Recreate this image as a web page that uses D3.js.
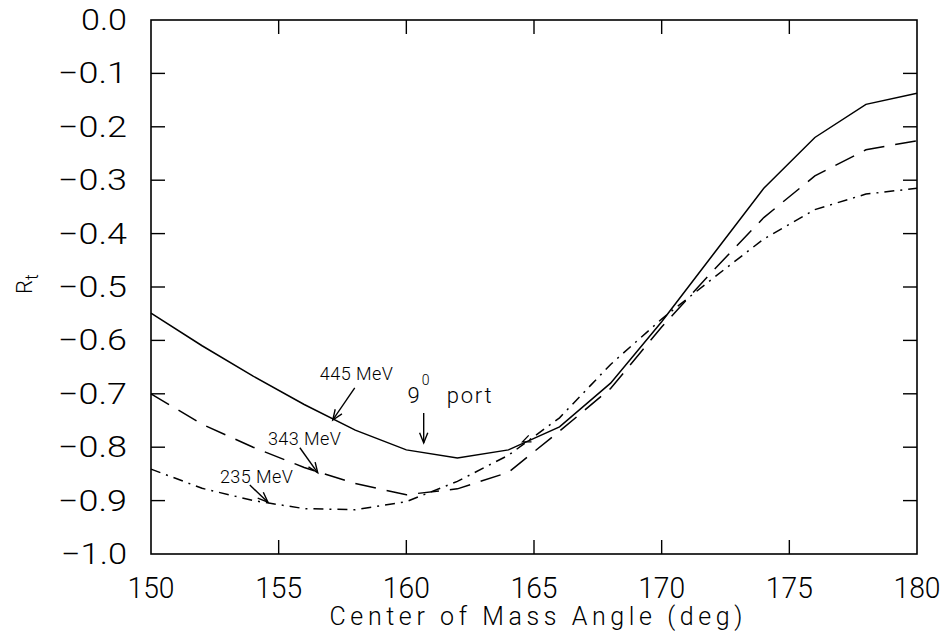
<!DOCTYPE html>
<html><head><meta charset="utf-8">
<script src="https://cdn.jsdelivr.net/npm/d3@7"></script>
<style>body{margin:0;background:#fff}svg{display:block}</style>
</head><body>
<svg id="c" width="942" height="635"></svg>
<script>
const angles = [150,152,154,156,158,160,162,164,166,168,170,172,174,176,178,180];
const r445 = [-0.549,-0.61,-0.667,-0.72,-0.768,-0.805,-0.82,-0.805,-0.762,-0.68,-0.565,-0.44,-0.315,-0.22,-0.158,-0.137];
const r343 = [-0.70,-0.757,-0.80,-0.838,-0.868,-0.889,-0.878,-0.847,-0.77,-0.69,-0.575,-0.47,-0.37,-0.292,-0.243,-0.226];
const r235 = [-0.841,-0.877,-0.90,-0.915,-0.917,-0.902,-0.864,-0.815,-0.745,-0.645,-0.56,-0.484,-0.41,-0.355,-0.326,-0.315];
const xTicks = [150,155,160,165,170,175,180];
const yTicks = [0.0,-0.1,-0.2,-0.3,-0.4,-0.5,-0.6,-0.7,-0.8,-0.9,-1.0];
const labels = [
  {text:"445 MeV", x:156.61, y:-0.674, from:[157.98,-0.689], to:[157.12,-0.749]},
  {text:"343 MeV", x:154.58, y:-0.796, from:[155.83,-0.801], to:[156.53,-0.848]},
  {text:"235 MeV", x:152.70, y:-0.867, from:[153.87,-0.871], to:[154.58,-0.903]}
];

const svg = d3.select("#c");
const L=151, R=917, T=20, B=554;
const x = d3.scaleLinear().domain([150,180]).range([L,R]);
const y = d3.scaleLinear().domain([-1,0]).range([B,T]);
const font = "Roboto, 'Liberation Sans', Arial, sans-serif";
const fw = 300;

svg.append("rect").attr("x",L).attr("y",T).attr("width",R-L).attr("height",B-T)
  .attr("fill","none").attr("stroke","#000").attr("stroke-width",1.6);

const TL=14;
xTicks.filter(v=>v>150&&v<180).forEach(v=>{
  svg.append("line").attr("x1",x(v)).attr("x2",x(v)).attr("y1",B).attr("y2",B-TL).attr("stroke","#000").attr("stroke-width",1.4);
  svg.append("line").attr("x1",x(v)).attr("x2",x(v)).attr("y1",T).attr("y2",T+TL).attr("stroke","#000").attr("stroke-width",1.4);
});
yTicks.filter(v=>v<0&&v>-1).forEach(v=>{
  svg.append("line").attr("x1",L).attr("x2",L+TL).attr("y1",y(v)).attr("y2",y(v)).attr("stroke","#000").attr("stroke-width",1.4);
  svg.append("line").attr("x1",R).attr("x2",R-TL).attr("y1",y(v)).attr("y2",y(v)).attr("stroke","#000").attr("stroke-width",1.4);
});
xTicks.forEach(v=>{
  svg.append("text").attr("x",x(v)).attr("y",598).attr("text-anchor","middle")
    .attr("font-family",font).attr("font-weight",fw).attr("font-size",29).attr("fill","#000")
    .attr("textLength",47).attr("lengthAdjust","spacingAndGlyphs").text(d3.format("d")(v));
});
yTicks.forEach(v=>{
  const s = v===0 ? "0.0" : "\u2212"+Math.abs(v).toFixed(1);
  svg.append("text").attr("x",127).attr("y",y(v)+10).attr("text-anchor","end")
    .attr("font-family",font).attr("font-weight",fw).attr("font-size",29).attr("fill","#000")
    .attr("textLength",v===0?46:(v===-1?66:69)).attr("lengthAdjust","spacingAndGlyphs").text(s);
});
svg.append("text").attr("x",(L+R)/2+2).attr("y",625).attr("text-anchor","middle")
  .attr("font-family",font).attr("font-weight",fw).attr("font-size",25).attr("fill","#000")
  .attr("textLength",413).attr("lengthAdjust","spacing").text("Center of Mass Angle (deg)");
const yl = svg.append("text").attr("transform","translate(32,294) rotate(-90)")
  .attr("font-family",font).attr("font-weight",fw).attr("font-size",22).attr("fill","#000");
yl.append("tspan").text("R");
yl.append("tspan").attr("dy",6).attr("font-size",18).text("t");

const line = d3.line().x(d=>x(d[0])).y(d=>y(d[1]));
const series = [
  {vals:r445, dash:null},
  {vals:r343, dash:"21,11"},
  {vals:r235, dash:"10,6,2,6"}
];
series.forEach(s=>{
  svg.append("path").datum(angles.map((a,i)=>[a,s.vals[i]])).attr("d",line)
    .attr("fill","none").attr("stroke","#000").attr("stroke-width",1.5)
    .attr("stroke-dasharray",s.dash);
});

function arrow(x1,y1,x2,y2,head){
  const ang=Math.atan2(y2-y1,x2-x1), h=head||11, a=0.38;
  svg.append("line").attr("x1",x1).attr("y1",y1).attr("x2",x2).attr("y2",y2).attr("stroke","#000").attr("stroke-width",1.4);
  const p1=[x2-h*Math.cos(ang-a), y2-h*Math.sin(ang-a)], p2=[x2-h*Math.cos(ang+a), y2-h*Math.sin(ang+a)];
  svg.append("path").attr("d",`M${p1}L${x2},${y2}L${p2}`).attr("fill","none").attr("stroke","#000").attr("stroke-width",1.4);
}
labels.forEach(l=>{
  svg.append("text").attr("x",x(l.x)).attr("y",y(l.y)).attr("font-family",font).attr("font-size",18)
    .attr("font-weight",fw).attr("fill","#000").attr("textLength",73).attr("lengthAdjust","spacing").text(l.text);
  arrow(x(l.from[0]),y(l.from[1]),x(l.to[0]),y(l.to[1]));
});
svg.append("text").attr("x",x(160.05)).attr("y",y(-0.717)).attr("font-family",font).attr("font-weight",fw).attr("font-size",22).attr("fill","#000").text("9");
svg.append("text").attr("x",x(160.6)).attr("y",y(-0.684)).attr("font-family",font).attr("font-weight",fw).attr("font-size",14).attr("fill","#000").text("0");
svg.append("text").attr("x",x(161.58)).attr("y",y(-0.717)).attr("font-family",font).attr("font-weight",fw).attr("font-size",22).attr("fill","#000")
  .attr("textLength",45).attr("lengthAdjust","spacing").text("port");
arrow(x(160.68),y(-0.736),x(160.68),y(-0.792));
(function(){const x2=x(164.55),y2=y(-0.79),x1=x(166),y1=y(-0.76);
  const ang=Math.atan2(y2-y1,x2-x1),h=9,a=0.4;
  const p1=[x2-h*Math.cos(ang-a), y2-h*Math.sin(ang-a)], p2=[x2-h*Math.cos(ang+a), y2-h*Math.sin(ang+a)];
  svg.append("path").attr("d",`M${p1}L${x2},${y2}L${p2}`).attr("fill","none").attr("stroke","#000").attr("stroke-width",1.3);
})();
</script>
</body></html>
